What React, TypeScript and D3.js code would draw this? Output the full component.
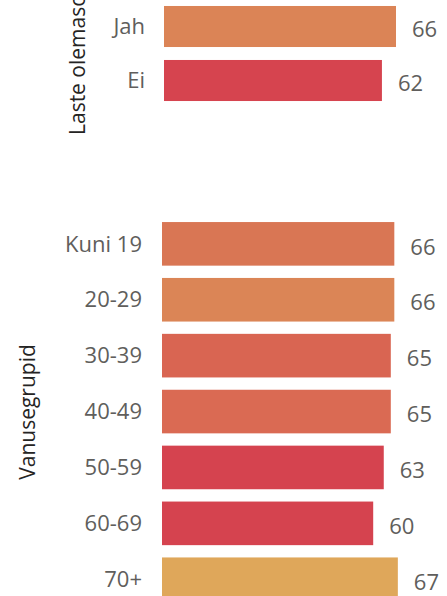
import * as d3 from "d3";
import { useEffect } from "react";

// laste olemasolu
const kidsCats = ["Jah", "Ei"];
const kidsVals = [66, 62];
const kidsColors = ["#DB8456", "#D6444F"];

// vanusegrupid
const ageCats = ["Kuni 19", "20-29", "30-39", "40-49", "50-59", "60-69", "70+"];
const ageVals = [66, 66, 65, 65, 63, 60, 67];
const ageColors = ["#D97654", "#DB8556", "#D96552", "#DA6A53", "#D5434F", "#D5434F", "#DFA75A"];

const width = 447;
const height = 596;
const font = "'Open Sans', 'Noto Sans', sans-serif";
const tickColor = "#605E5C";
const titleColor = "#252423";

function Section({ cats, vals, colors, yRange, xRange, pad, labelX }) {
  const y = d3.scaleBand().domain(cats).range(yRange).paddingInner(pad).paddingOuter(pad / 2);
  const x = d3.scaleLinear().domain([0, 70]).range(xRange);
  return (
    <g>
      {cats.map((c, i) => (
        <g key={c}>
          <rect
            x={x(0)}
            y={y(c)}
            width={x(vals[i]) - x(0)}
            height={y.bandwidth()}
            fill={colors[i]}
          />
          <text
            x={labelX}
            y={y(c) + y.bandwidth() / 2}
            dy="0.35em"
            textAnchor="end"
            fontSize={22}
            fill={tickColor}
          >
            {c}
          </text>
          <text
            x={x(vals[i]) + 16}
            y={y(c) + y.bandwidth() / 2 + 3}
            dy="0.35em"
            fontSize={22}
            fill={tickColor}
          >
            {vals[i]}
          </text>
        </g>
      ))}
    </g>
  );
}

export default function App() {
  useEffect(() => {
    document.body.style.margin = "0";
  }, []);

  return (
    <svg width={width} height={height} style={{ display: "block", fontFamily: font }}>
      <rect width={width} height={height} fill="#fff" />
      <Section
        cats={kidsCats}
        vals={kidsVals}
        colors={kidsColors}
        yRange={[-0.5, 107.5]}
        xRange={[164, 164 + 3.515 * 70]}
        pad={0.24}
        labelX={145}
      />
      <Section
        cats={ageCats}
        vals={ageVals}
        colors={ageColors}
        yRange={[215.9, 607.2]}
        xRange={[162, 162 + 3.52 * 70]}
        pad={0.22}
        labelX={142}
      />
      <text
        transform="translate(85,135) rotate(-90)"
        fontSize={21}
        fill={titleColor}
      >
        Laste olemasolu
      </text>
      <text
        transform="translate(35,412) rotate(-90)"
        textAnchor="middle"
        fontSize={21}
        fill={titleColor}
      >
        Vanusegrupid
      </text>
    </svg>
  );
}
